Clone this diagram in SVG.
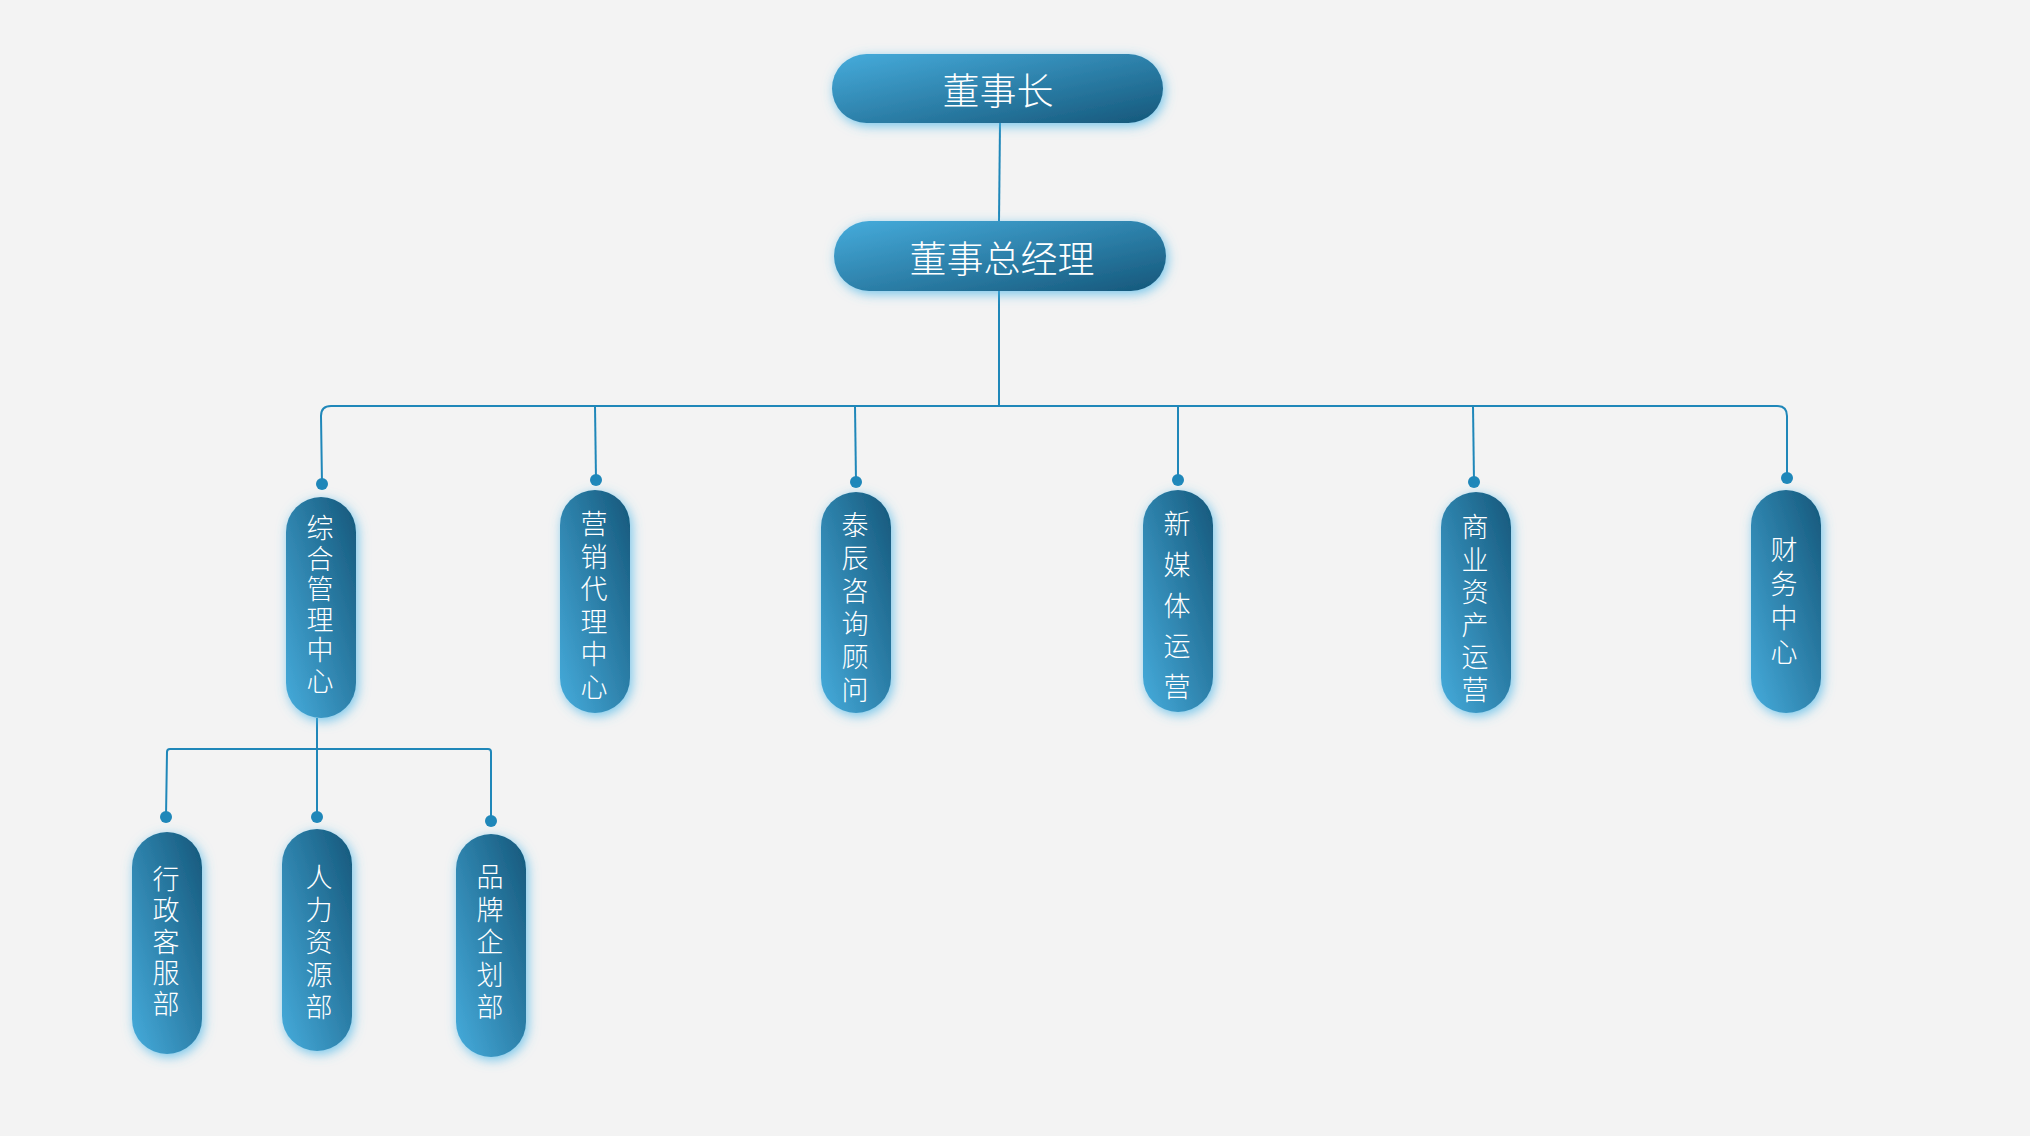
<svg xmlns="http://www.w3.org/2000/svg" width="2030" height="1136" viewBox="0 0 2030 1136">
<defs>
<linearGradient id="gh" x1="0" y1="0" x2="1" y2="1">
<stop offset="0" stop-color="#46acdc"/>
<stop offset="1" stop-color="#15577a"/>
</linearGradient>
<linearGradient id="gv" x1="0" y1="1" x2="1" y2="0">
<stop offset="0" stop-color="#46acdc"/>
<stop offset="1" stop-color="#15577a"/>
</linearGradient>
<filter id="glow" x="-40%" y="-40%" width="180%" height="180%">
<feDropShadow dx="2" dy="3" stdDeviation="6" flood-color="#4cb6e8" flood-opacity="0.75"/>
</filter>
</defs>
<style>
.bg{fill:#f3f3f3}
.hp{fill:url(#gh);filter:url(#glow)}
.vp{fill:url(#gv);filter:url(#glow)}
.t{fill:#ffffff;font-family:"Noto Sans CJK SC","Noto Sans",sans-serif;font-weight:300;text-anchor:middle;dominant-baseline:central}
.th{font-size:37px}
.tv{font-size:27px}
.ln{fill:none;stroke:#1f87b9;stroke-width:2}
.dot{fill:#1f87b9}
</style>
<rect class="bg" x="0" y="0" width="2030" height="1136"/>

<g id="connectors">
<path class="ln" d="M1000,123 L999,221"/>
<path class="ln" d="M999,291 L999,406"/>
<path class="ln" d="M322,484 L321,416 Q321,406 331,406 L1777,406 Q1787,406 1787,416 L1787,478"/>
<path class="ln" d="M595,406 L596,480"/>
<path class="ln" d="M855,406 L856,482"/>
<path class="ln" d="M1178,406 L1178,480"/>
<path class="ln" d="M1473,406 L1474,482"/>
<path class="ln" d="M317,718 L317,749"/>
<path class="ln" d="M166,817 L167,752 Q167,749 170,749 L488,749 Q491,749 491,752 L491,821"/>
<path class="ln" d="M317,749 L317,817"/>
<circle class="dot" cx="322" cy="484" r="6"/>
<circle class="dot" cx="596" cy="480" r="6"/>
<circle class="dot" cx="856" cy="482" r="6"/>
<circle class="dot" cx="1178" cy="480" r="6"/>
<circle class="dot" cx="1474" cy="482" r="6"/>
<circle class="dot" cx="1787" cy="478" r="6"/>
<circle class="dot" cx="166" cy="817" r="6"/>
<circle class="dot" cx="317" cy="817" r="6"/>
<circle class="dot" cx="491" cy="821" r="6"/>
</g>

<g id="n-chairman">
<rect class="hp" x="832" y="54" width="331" height="69" rx="34.5"/>
<text class="t th" x="998" y="89">董事长</text>
</g>
<g id="n-gm">
<rect class="hp" x="834" y="221" width="332" height="70" rx="35"/>
<text class="t th" x="1002" y="257">董事总经理</text>
</g>

<g id="n-zonghe">
<rect class="vp" x="286" y="497" width="70" height="221" rx="35"/>
<text class="t tv"><tspan x="320" y="526">综</tspan><tspan x="320" y="556.5">合</tspan><tspan x="320" y="587">管</tspan><tspan x="320" y="617.5">理</tspan><tspan x="320" y="648">中</tspan><tspan x="320" y="678.5">心</tspan></text>
</g>
<g id="n-yingxiao">
<rect class="vp" x="560" y="490" width="70" height="223" rx="35"/>
<text class="t tv"><tspan x="594" y="522">营</tspan><tspan x="594" y="554.6">销</tspan><tspan x="594" y="587.2">代</tspan><tspan x="594" y="619.8">理</tspan><tspan x="594" y="652.4">中</tspan><tspan x="594" y="685">心</tspan></text>
</g>
<g id="n-taichen">
<rect class="vp" x="821" y="492" width="70" height="221" rx="35"/>
<text class="t tv"><tspan x="855" y="523">泰</tspan><tspan x="855" y="556">辰</tspan><tspan x="855" y="589">咨</tspan><tspan x="855" y="622">询</tspan><tspan x="855" y="655">顾</tspan><tspan x="855" y="688">问</tspan></text>
</g>
<g id="n-xinmeiti">
<rect class="vp" x="1143" y="490" width="70" height="222" rx="35"/>
<text class="t tv"><tspan x="1177" y="522">新</tspan><tspan x="1177" y="563">媒</tspan><tspan x="1177" y="604">体</tspan><tspan x="1177" y="644">运</tspan><tspan x="1177" y="685">营</tspan></text>
</g>
<g id="n-shangye">
<rect class="vp" x="1441" y="492" width="70" height="221" rx="35"/>
<text class="t tv"><tspan x="1475" y="525">商</tspan><tspan x="1475" y="557.6">业</tspan><tspan x="1475" y="590.2">资</tspan><tspan x="1475" y="622.8">产</tspan><tspan x="1475" y="655.4">运</tspan><tspan x="1475" y="688">营</tspan></text>
</g>
<g id="n-caiwu">
<rect class="vp" x="1751" y="490" width="70" height="223" rx="35"/>
<text class="t tv"><tspan x="1784" y="548">财</tspan><tspan x="1784" y="582">务</tspan><tspan x="1784" y="616">中</tspan><tspan x="1784" y="650">心</tspan></text>
</g>

<g id="n-xingzheng">
<rect class="vp" x="132" y="832" width="70" height="222" rx="35"/>
<text class="t tv"><tspan x="166" y="877">行</tspan><tspan x="166" y="908">政</tspan><tspan x="166" y="939.5">客</tspan><tspan x="166" y="971">服</tspan><tspan x="166" y="1002">部</tspan></text>
</g>
<g id="n-renli">
<rect class="vp" x="282" y="829" width="70" height="222" rx="35"/>
<text class="t tv"><tspan x="319" y="875">人</tspan><tspan x="319" y="907.5">力</tspan><tspan x="319" y="940">资</tspan><tspan x="319" y="972.5">源</tspan><tspan x="319" y="1005">部</tspan></text>
</g>
<g id="n-pinpai">
<rect class="vp" x="456" y="834" width="70" height="223" rx="35"/>
<text class="t tv"><tspan x="490" y="875">品</tspan><tspan x="490" y="907.5">牌</tspan><tspan x="490" y="940">企</tspan><tspan x="490" y="972.5">划</tspan><tspan x="490" y="1005">部</tspan></text>
</g>
</svg>
